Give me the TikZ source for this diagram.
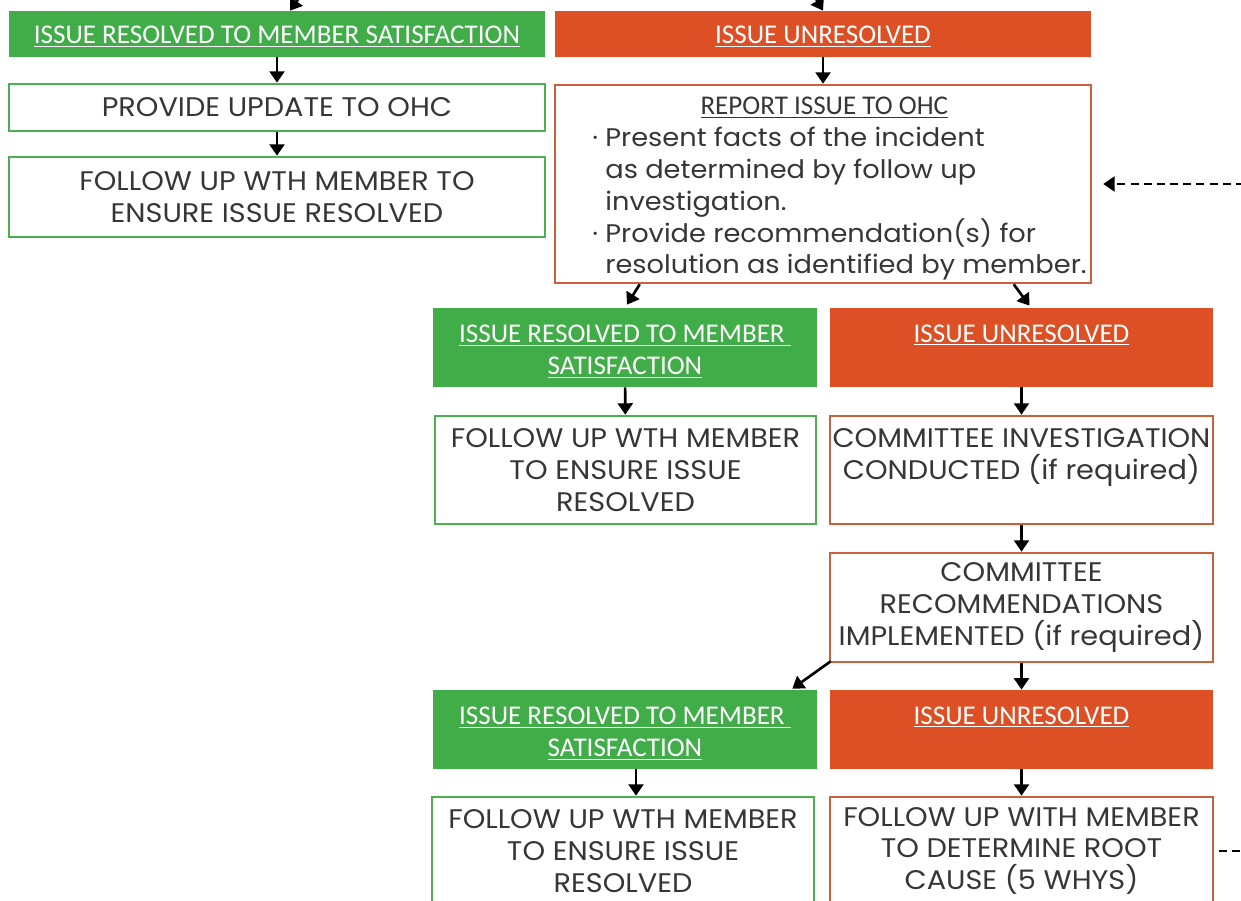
\documentclass[tikz,border=0pt]{standalone}
\usepackage{fontspec}
\setmainfont{Poppins}[FakeStretch=1.07]
\newfontfamily\headfont{Carlito}
\usetikzlibrary{arrows.meta,calc}

\definecolor{okgreen}{HTML}{41AD49}
\definecolor{nogored}{HTML}{DD4F25}
\definecolor{okline}{HTML}{4CB050}
\definecolor{noline}{HTML}{C9623C}
\definecolor{bodytext}{HTML}{363636}

\newcommand{\lowerby}[1]{\rule{0pt}{#1}}

\tikzset{
  resolved/.style={fill=okgreen, text=white, minimum height=1.58cm, inner sep=0pt,
    align=center, font=\headfont\fontsize{15.4}{18.1}\selectfont},
  unresolved/.style={resolved, fill=nogored},
  okstep/.style={draw=okline, line width=1.5pt, text=bodytext, inner sep=0pt,
    align=center, font=\fontsize{15.3}{18.1}\selectfont},
  nostep/.style={okstep, draw=noline},
  flow/.style={-{Triangle[length=6.5pt,width=8.5pt]}, line width=1.5pt},
  backflow/.style={flow, dash pattern=on 4.5pt off 3pt}
}

\begin{document}
\begin{tikzpicture}[x=0.02cm,y=-0.02cm]
  \path[use as bounding box, clip] (0,0) rectangle (1241,901);

  % first split
  \node[resolved, minimum width=10.72cm, minimum height=0.92cm] (okA) at (277,34)
    {\lowerby{13.3pt}\underline{ISSUE RESOLVED TO MEMBER SATISFACTION}};
  \node[unresolved, minimum width=10.72cm, minimum height=0.92cm] (noB) at (823,34)
    {\lowerby{13.3pt}\underline{ISSUE UNRESOLVED}};
  \node[okstep, minimum width=10.72cm, minimum height=0.94cm] (updA) at (277,107.5)
    {PROVIDE UPDATE TO OHC};
  \node[okstep, minimum width=10.72cm, minimum height=1.6cm] (followA) at (277,197)
    {FOLLOW UP WTH MEMBER TO\\ENSURE ISSUE RESOLVED};
  \node[nostep, minimum width=10.72cm, minimum height=3.96cm] (reportB) at (823,184) {};
  \node[text=bodytext, align=left, inner sep=0pt, anchor=west,
    font=\fontsize{14.5}{18.1}\selectfont] (reportnote) at (592,189)
    {\makebox[9.28cm][c]{\headfont\fontsize{15.4}{18.1}\selectfont\underline{REPORT ISSUE TO OHC}}\\
     \makebox[0.26cm][l]{·}Present facts of the incident\\
     \hspace*{0.26cm}as determined by follow up\\
     \hspace*{0.26cm}investigation.\\
     \makebox[0.26cm][l]{·}Provide recommendation(s) for\\
     \hspace*{0.26cm}resolution as identified by member.};

  % second split
  \node[resolved, minimum width=7.68cm] (okC) at (625,347.5)
    {\lowerby{14.5pt}\underline{ISSUE RESOLVED TO MEMBER\ }\\\underline{SATISFACTION}};
  \node[unresolved, minimum width=7.66cm] (noD) at (1021.5,347.5)
    {\lowerby{12pt}\underline{ISSUE UNRESOLVED}\\\mbox{}};
  \node[okstep, minimum width=7.62cm, minimum height=2.16cm] (followC) at (625.5,470)
    {FOLLOW UP WTH MEMBER\\TO ENSURE ISSUE\\RESOLVED};
  \node[nostep, minimum width=7.66cm, minimum height=2.16cm] (probeD) at (1021.5,470)
    {COMMITTEE INVESTIGATION\\CONDUCTED (if required)\\\mbox{}};
  \node[nostep, minimum width=7.66cm, minimum height=2.18cm] (applyD) at (1021.5,607.5)
    {COMMITTEE\\RECOMMENDATIONS\\IMPLEMENTED (if required)};

  % third split
  \node[resolved, minimum width=7.68cm] (okC2) at (625,729.5)
    {\lowerby{14.5pt}\underline{ISSUE RESOLVED TO MEMBER\ }\\\underline{SATISFACTION}};
  \node[unresolved, minimum width=7.66cm] (noD2) at (1021.5,729.5)
    {\lowerby{12pt}\underline{ISSUE UNRESOLVED}\\\mbox{}};
  \node[okstep, minimum width=7.64cm, minimum height=2.16cm] (followC2) at (623,851)
    {FOLLOW UP WTH MEMBER\\TO ENSURE ISSUE\\RESOLVED};
  \node[nostep, minimum width=7.66cm, minimum height=2.16cm] (rootD) at (1021.5,851)
    {FOLLOW UP WITH MEMBER\\TO DETERMINE ROOT\\CAUSE (5 WHYS)};

  % arrows
  \coordinate (fromA) at (330,-45);
  \coordinate (fromB) at (790,-45);
  \coordinate (loopback) at (1300,0);
  \draw[flow] (fromA) -- ($(okA.north)+(13,0)$);
  \draw[flow] (fromB) -- (noB.north);
  \draw[flow] (okA) -- (updA);
  \draw[flow] (updA) -- (followA);
  \draw[flow] (noB) -- (reportB);
  \draw[flow] ($(reportB.south west)+(86,0)$) -- ($(okC.north)+(2,-3)$);
  \draw[flow] ($(reportB.south west)+(460,0)$) -- ($(noD.north)+(8,-2)$);
  \draw[flow] (okC) -- (followC);
  \draw[flow] (noD) -- (probeD);
  \draw[flow] (probeD) -- (applyD);
  \draw[flow] (applyD) -- (noD2);
  \draw[flow] ($(applyD.south west)+(2,-2)$) -- ($(okC2.north east)+(-25,-1)$);
  \draw[flow] ($(okC2.south)+(11,0)$) -- ($(followC2.north)+(13,0)$);
  \draw[flow] (noD2) -- (rootD);
  \draw[backflow] ($(rootD.east)+(5,0)$) -- (rootD.east -| loopback)
    -- (reportB.east -| loopback) -- ($(reportB.east)+(11,0)$);
\end{tikzpicture}
\end{document}
